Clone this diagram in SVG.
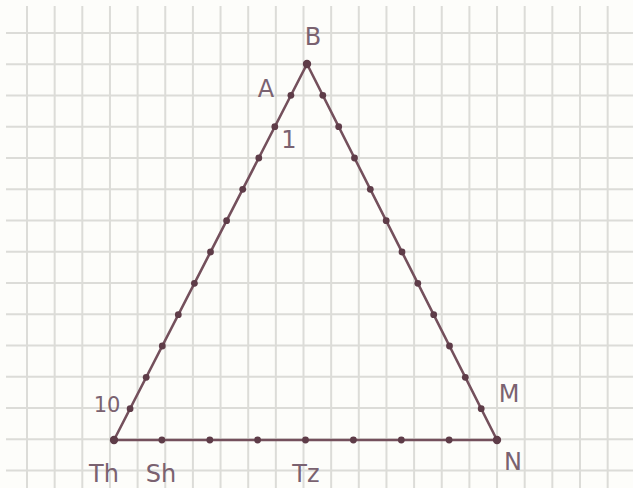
<svg xmlns="http://www.w3.org/2000/svg" width="633" height="488" viewBox="0 0 633 488">
<style>
.grid{stroke:#dcdcd8;stroke-width:2;fill:none}
.side{stroke:#74505c;stroke-width:2.6;fill:none;stroke-linecap:round}
.dot{fill:#5e3c48}
.vtx{fill:#5e3c48}
.lbl{font-family:"DejaVu Sans","Liberation Sans",sans-serif;fill:#7a6270;font-size:24px}
.sm{font-size:21px}
</style>
<defs>
<circle id="d" r="3.4" class="dot"/>
<circle id="v" r="4.2" class="vtx"/>
</defs>
<rect x="0" y="0" width="633" height="488" fill="#fdfdfa"/>
<g id="grid" class="grid">
<path d="M6 33H633M6 64.25H633M6 95.5H633M6 126.75H633M6 158H633M6 189.25H633M6 220.5H633M6 251.75H633M6 283H633M6 314.25H633M6 345.5H633M6 376.75H633M6 408H633M6 439.25H633M6 470.5H633"/>
<path d="M27 6V488M54.65 6V488M82.3 6V488M109.95 6V488M137.6 6V488M165.25 6V488M192.9 6V488M220.55 6V488M248.2 6V488M275.85 6V488M303.5 6V488M331.15 6V488M358.8 6V488M386.45 6V488M414.1 6V488M441.75 6V488M469.4 6V488M497.05 6V488M524.7 6V488M552.35 6V488M580 6V488M607.65 6V488"/>
</g>
<g id="connectors">
<path class="side" d="M307 64L114 440"/>
<path class="side" d="M307 64L497 440"/>
<path class="side" d="M114 440H497"/>
</g>
<g id="ticks-left">
<use href="#d" x="290.9" y="95.3"/><use href="#d" x="274.8" y="126.7"/><use href="#d" x="258.8" y="158"/><use href="#d" x="242.7" y="189.3"/><use href="#d" x="226.6" y="220.7"/><use href="#d" x="210.5" y="252"/><use href="#d" x="194.4" y="283.3"/><use href="#d" x="178.3" y="314.7"/><use href="#d" x="162.3" y="346"/><use href="#d" x="146.2" y="377.3"/><use href="#d" x="130.1" y="408.7"/>
</g>
<g id="ticks-right">
<use href="#d" x="322.8" y="95.3"/><use href="#d" x="338.7" y="126.7"/><use href="#d" x="354.5" y="158"/><use href="#d" x="370.3" y="189.3"/><use href="#d" x="386.2" y="220.7"/><use href="#d" x="402" y="252"/><use href="#d" x="417.8" y="283.3"/><use href="#d" x="433.7" y="314.7"/><use href="#d" x="449.5" y="346"/><use href="#d" x="465.3" y="377.3"/><use href="#d" x="481.2" y="408.7"/>
</g>
<g id="ticks-base">
<use href="#d" x="161.9" y="440"/><use href="#d" x="209.8" y="440"/><use href="#d" x="257.6" y="440"/><use href="#d" x="305.5" y="440"/><use href="#d" x="353.4" y="440"/><use href="#d" x="401.3" y="440"/><use href="#d" x="449.1" y="440"/>
</g>
<g id="node-B"><use href="#v" x="307" y="64"/><text class="lbl" x="313" y="45" text-anchor="middle">B</text></g>
<g id="node-A"><text class="lbl" x="266" y="97" text-anchor="middle">A</text></g>
<g id="node-1"><text class="lbl" x="289" y="148" text-anchor="middle">1</text></g>
<g id="node-10"><text class="lbl sm" x="107" y="412" text-anchor="middle">10</text></g>
<g id="node-M"><text class="lbl" x="509" y="402" text-anchor="middle">M</text></g>
<g id="node-N"><use href="#v" x="497" y="440"/><text class="lbl" x="513" y="470" text-anchor="middle">N</text></g>
<g id="node-Th"><use href="#v" x="114" y="440"/><text class="lbl" x="104" y="482" text-anchor="middle">Th</text></g>
<g id="node-Sh"><text class="lbl" x="161" y="482" text-anchor="middle">Sh</text></g>
<g id="node-Tz"><text class="lbl" x="306" y="482" text-anchor="middle">Tz</text></g>
</svg>
